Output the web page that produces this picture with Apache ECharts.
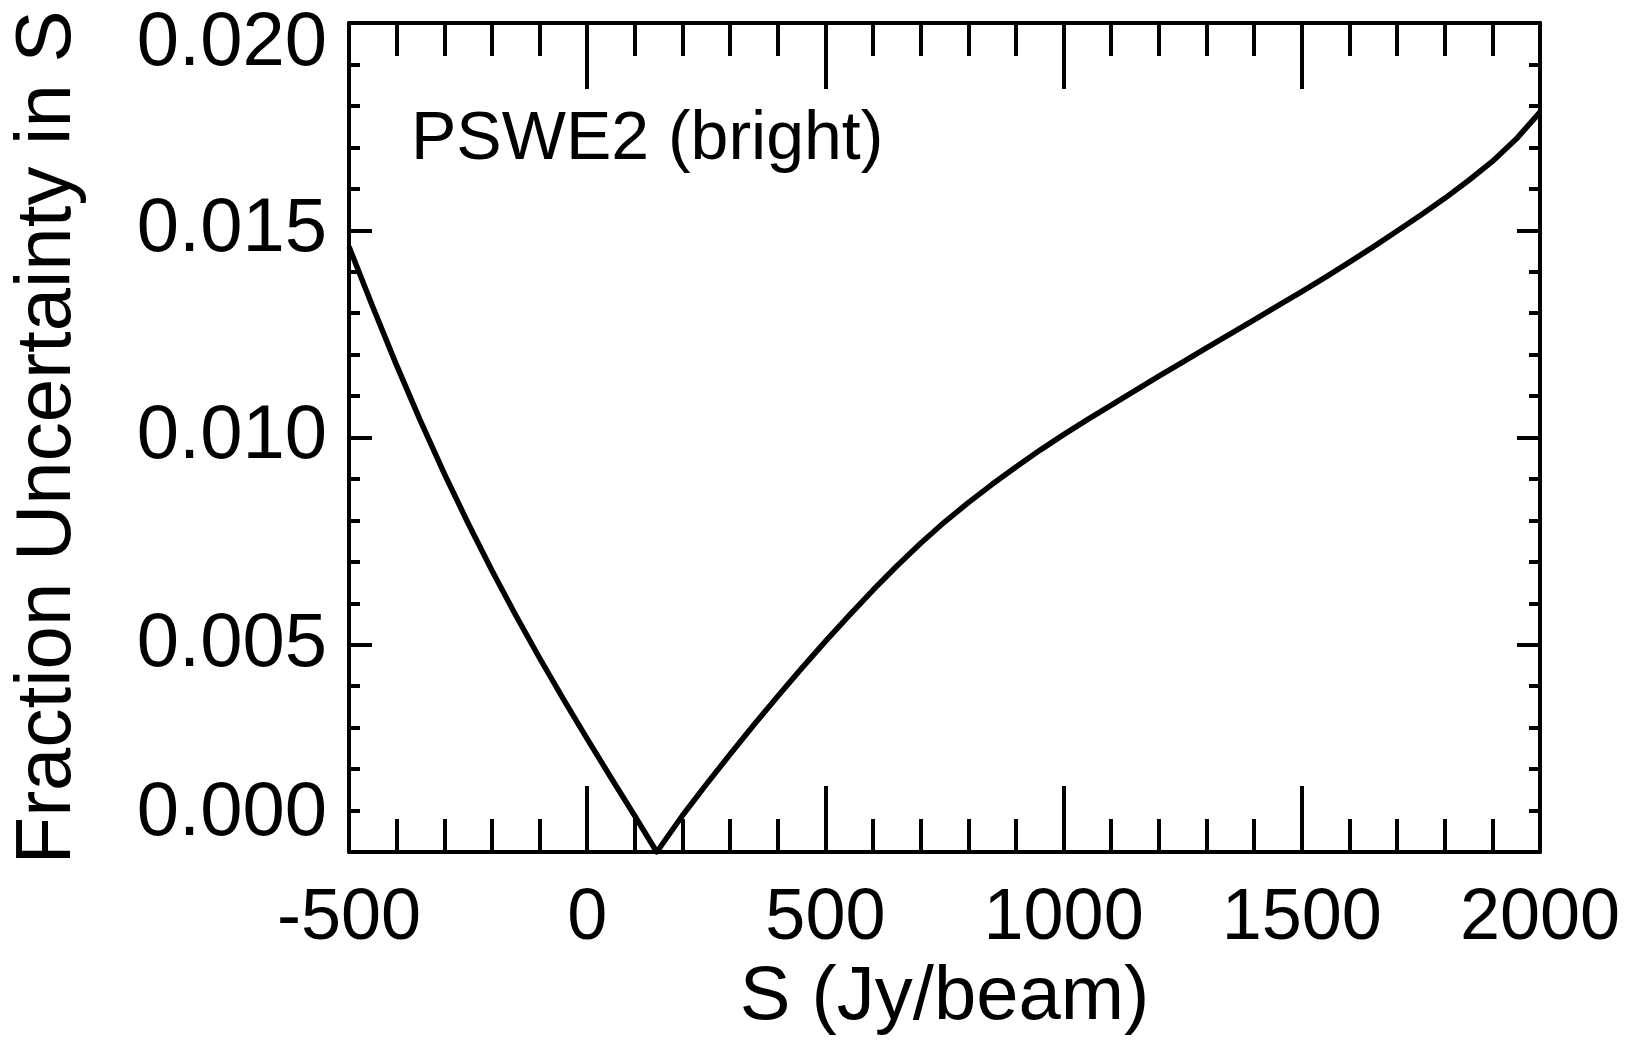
<!DOCTYPE html>
<html>
<head>
<meta charset="utf-8">
<script src="https://cdn.jsdelivr.net/npm/echarts@6/dist/echarts.min.js"></script>
<style>
  html, body { margin: 0; padding: 0; background: #fff; }
  #chart { width: 1627px; height: 1048px; }
</style>
</head>
<body>
<div id="chart"></div>
<script>
(function () {
var myChart = echarts.init(document.getElementById("chart"));

// S (Jy/beam) and fractional uncertainty
var fluxS = [-500, -450, -400, -350, -300, -250, -200, -150, -100, -50, 0, 50, 100, 146,
    200, 250, 300, 350, 400, 450, 500, 550, 600, 650, 700, 750, 800, 850, 900, 950, 1000,
    1050, 1100, 1150, 1200, 1250, 1300, 1350, 1400, 1450, 1500, 1550, 1600, 1650, 1700,
    1750, 1800, 1850, 1900, 1950, 2000];
var fracUnc = [0.0146, 0.01315, 0.01174, 0.0104, 0.00913, 0.00793, 0.00679, 0.00571, 0.00468,
    0.00369, 0.00273, 0.00179, 0.00087, 0.0000,
    0.00088, 0.00163, 0.00236, 0.00307, 0.00376, 0.00443, 0.00508, 0.00571, 0.00632, 0.0069,
    0.00745, 0.00796, 0.00843, 0.00887, 0.00929, 0.00969, 0.01007,
    0.01043, 0.01078, 0.01113, 0.01148, 0.01182, 0.01216, 0.0125, 0.01284, 0.01318, 0.01352,
    0.01387, 0.01423, 0.0146, 0.01498, 0.01537, 0.01577, 0.0162, 0.01666, 0.0172, 0.01785];

var xTicks = [-500, 0, 500, 1000, 1500, 2000];
var yTicks = [0.000, 0.005, 0.010, 0.015, 0.020];

var points = [];
for (var i = 0; i < fluxS.length; i++) {
    points.push([fluxS[i], fracUnc[i]]);
}

var font = "'Liberation Sans', Arial, Helvetica, sans-serif";
var black = '#000';

function xAxisOpt(pos, labels) {
    return {
        type: 'value',
        position: pos,
        min: xTicks[0],
        max: xTicks[xTicks.length - 1],
        interval: 500,
        axisLine: { show: true, onZero: false, lineStyle: { color: black, width: 4 } },
        axisTick: { show: true, inside: true, length: 66, lineStyle: { color: black, width: 4 } },
        minorTick: { show: true, splitNumber: 5, length: 33, lineStyle: { color: black, width: 4 } },
        splitLine: { show: false },
        axisLabel: {
            show: labels,
            color: black,
            fontSize: 72,
            fontFamily: font,
            margin: 31,
            formatter: function (v) { return String(v); }
        },
        name: labels ? 'S (Jy/beam)' : '',
        nameLocation: 'middle',
        nameGap: 100,
        nameTextStyle: { color: black, fontSize: 76, fontFamily: font }
    };
}

function yAxisOpt(pos, labels) {
    var top = yTicks[yTicks.length - 1];
    return {
        type: 'value',
        position: pos,
        min: yTicks[0],
        max: top,
        interval: 0.005,
        axisLine: { show: true, onZero: false, lineStyle: { color: black, width: 4 } },
        axisTick: { show: true, inside: true, length: 23, lineStyle: { color: black, width: 4 } },
        minorTick: { show: true, splitNumber: 5, length: 11, lineStyle: { color: black, width: 4 } },
        splitLine: { show: false },
        axisLabel: {
            show: labels,
            color: black,
            fontSize: 76,
            fontFamily: font,
            margin: 22,
            verticalAlignMinLabel: 'bottom',
            verticalAlignMaxLabel: 'top',
            formatter: function (v) {
                if (Math.abs(v - top) < 1e-9) return '{tp|' + v.toFixed(3) + '}';
                return v.toFixed(3);
            },
            rich: {
                tp: { fontSize: 76, fontFamily: font, color: black, lineHeight: 42 }
            }
        },
        name: labels ? 'Fraction Uncertainty in S' : '',
        nameLocation: 'middle',
        nameGap: 262,
        nameTextStyle: { color: black, fontSize: 78, fontFamily: font }
    };
}

option = {
    backgroundColor: '#fff',
    animation: false,
    title: {
        text: 'PSWE2 (bright)',
        left: 406,
        top: 101,
        textStyle: { color: black, fontSize: 68, fontWeight: 'normal', fontFamily: font }
    },
    grid: { left: 349, top: 23, width: 1191, height: 829, containLabel: false },
    xAxis: [xAxisOpt('bottom', true), xAxisOpt('top', false)],
    yAxis: [yAxisOpt('left', true), yAxisOpt('right', false)],
    series: [{
        type: 'line',
        data: points,
        showSymbol: false,
        smooth: false,
        lineStyle: { color: black, width: 5.5, join: 'round' },
        clip: true
    }]
};

myChart.setOption(option);
window.addEventListener("resize", function () {
    myChart.resize();
});
})();
</script>
</body>
</html>
